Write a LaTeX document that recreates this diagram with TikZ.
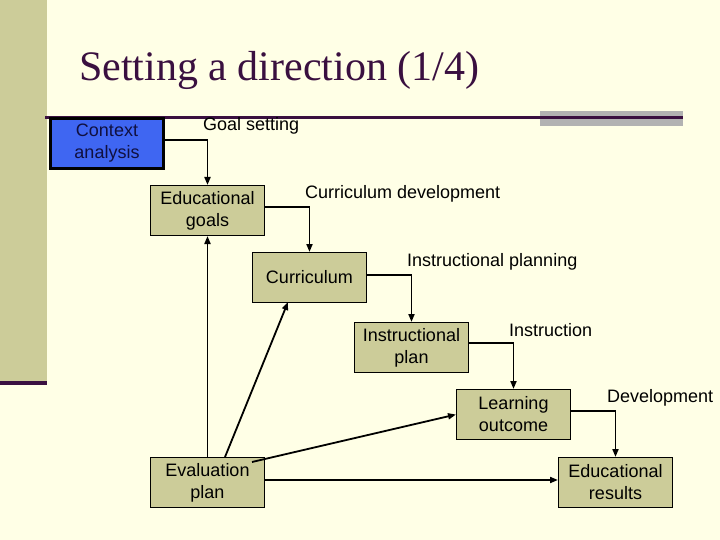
\documentclass[tikz,border=0pt]{standalone}
\usepackage{fontspec}
\setmainfont{Liberation Sans}
\newfontfamily\titlefont{Liberation Serif}
\usetikzlibrary{arrows.meta}
\definecolor{bg}{HTML}{FFFFE6}
\definecolor{boxc}{HTML}{CCCC99}
\definecolor{dark}{HTML}{3A1040}
\definecolor{blu}{HTML}{3F66F2}
\definecolor{navy}{HTML}{101040}
\begin{document}
\begin{tikzpicture}[x=1pt,y=-1pt,
  box/.style={draw=black,fill=boxc,line width=1pt,minimum width=114pt,minimum height=50pt,align=center,font=\fontsize{18}{22}\selectfont,anchor=north west,inner sep=0pt},
  lbl/.style={font=\fontsize{18}{22}\selectfont,anchor=west,inner sep=0pt},
  arr/.style={line width=1.8pt,-{Triangle[length=8pt,width=6pt]}}]
\fill[bg] (0,0) rectangle (720,540);
\useasboundingbox (0,0) rectangle (720,540);
\fill[boxc] (0,0) rectangle (47,383);
\draw[dark,line width=3.5pt] (0,383) -- (47,383);
\fill[gray!60] (540,111) rectangle (683,126);
\draw[dark,line width=3pt] (45,118) -- (683,118);
\node[anchor=west,text=dark,font=\titlefont\fontsize{42}{46}\selectfont,inner sep=0pt] (title) at (79,70) {Setting a direction (1/4)};
\node[box,fill=blu,line width=3pt,text=navy,minimum width=113pt,minimum height=50pt] (ca) at (49,117) {Context\\analysis};
\node[box] (eg) at (150,185) {Educational\\goals};
\node[box] (cu) at (252,252) {Curriculum};
\node[box] (ip) at (354,322) {Instructional\\plan};
\node[box] (lo) at (456,389) {Learning\\outcome};
\node[box] (ep) at (150,457) {Evaluation\\plan};
\node[box] (er) at (558,457) {Educational\\results};
\node[lbl] (l1) at (203,126) {Goal setting};
\node[lbl] (l2) at (305,194) {Curriculum development};
\node[lbl] (l3) at (407,262) {Instructional planning};
\node[lbl] (l4) at (509,330) {Instruction};
\node[lbl] (l5) at (607,398) {Development};
\draw[arr] (ca.east |- 0,140) -| (eg.north);
\draw[arr] (eg.east |- 0,207) -| (cu.north);
\draw[arr] (cu.east |- 0,275) -| (ip.north);
\draw[arr] (ip.east |- 0,343) -| (lo.north);
\draw[arr] (lo.east |- 0,411) -| (er.north);
\draw[arr] (ep.north) -- (eg.south);
\draw[arr] (225,457) -- (288,302);
\draw[arr] (252,462) -- (lo.west);
\draw[arr] (ep.east |- 0,480) -- (er.west |- 0,480);
\end{tikzpicture}
\end{document}
